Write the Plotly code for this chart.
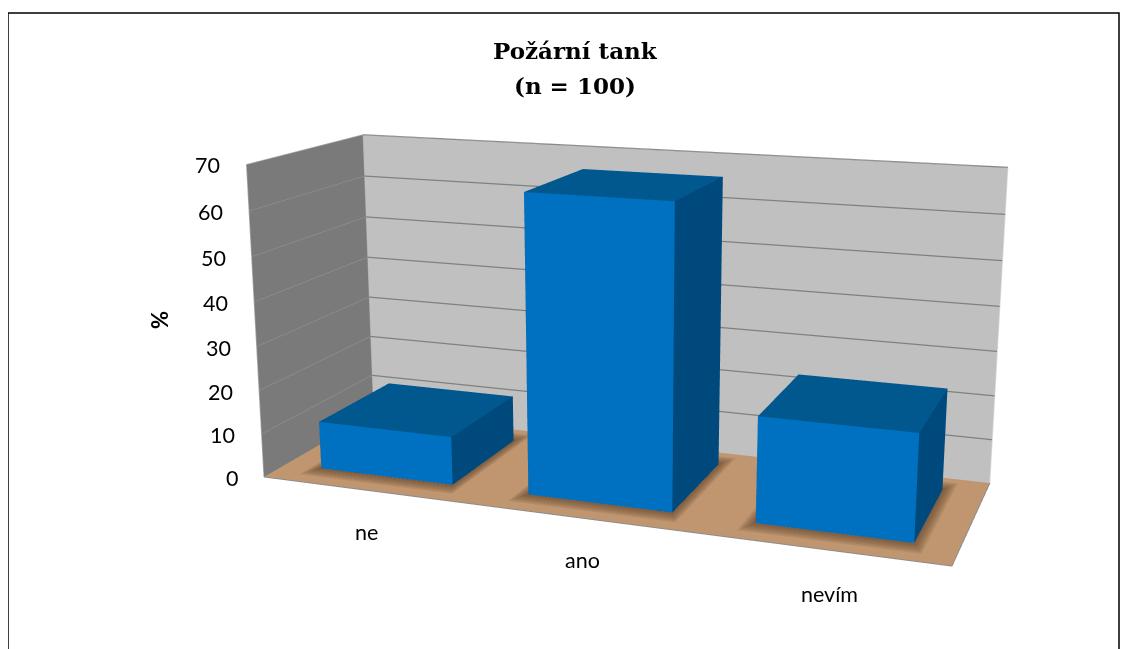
import plotly.graph_objects as go

categories = ["ne", "ano", "nevím"]
values = [11, 66, 23]
z_ticks = [0, 10, 20, 30, 40, 50, 60, 70]
title_lines = ["Požární tank", "(n = 100)"]
y_title = "%"

TOP = "#01588f"
FRONT = "#0071c1"
SIDE = "#00497c"
WALL_LEFT = "#7a7a7a"
WALL_BACK = "#c0c0c0"
FLOOR = "#c09670"
TEXT_FONT = "Lato, Noto Sans, sans-serif"

BAR_X_MARGIN = 0.178
BAR_Y_RANGE = (0.187, 0.84)
LABEL_SHIFTS = ((1, -42), (0, -42), (7, -45))

# The chart has a much narrower lens than plotly's fixed 45 degree one, so the
# scene is drawn in a larger figure, offset so that the visible window is part of it.
FIG_W, FIG_H = 1228, 1390
TOP_OFFSET = -366


def fx(px):
    return (px - 8) / FIG_W


def fy(py):
    return 1 - (py - 8 - TOP_OFFSET) / FIG_H


fig = go.Figure()
flat = dict(ambient=1, diffuse=0, specular=0, roughness=1, fresnel=0)


def box(x0, x1, y0, y1, z0, z1):
    xs = [x0, x1, x1, x0, x0, x1, x1, x0]
    ys = [y0, y0, y1, y1, y0, y0, y1, y1]
    zs = [z0, z0, z0, z0, z1, z1, z1, z1]
    i = [0, 0, 4, 4, 0, 0, 1, 1, 2, 2, 3, 3]
    j = [1, 2, 5, 6, 1, 5, 2, 6, 3, 7, 0, 4]
    k = [2, 3, 6, 7, 5, 4, 6, 5, 7, 6, 4, 7]
    face = [SIDE] * 12
    face[2] = face[3] = TOP
    face[4] = face[5] = FRONT
    fig.add_trace(go.Mesh3d(x=xs, y=ys, z=zs, i=i, j=j, k=k, facecolor=face, flatshading=True,
                            lighting=flat, hoverinfo="skip", showscale=False))


def shadow(x0, x1, y0, y1, grow):
    gy = grow * 2.2
    fig.add_trace(go.Mesh3d(x=[x0 - grow, x1 + grow, x1 + grow, x0 - grow],
                            y=[y0 - gy, y0 - gy, y1 + gy, y1 + gy],
                            z=[0.05, 0.05, 0.05, 0.05], i=[0, 0], j=[1, 2], k=[2, 3],
                            color="#4a2f18", opacity=0.12, flatshading=True, lighting=flat,
                            hoverinfo="skip", showscale=False))


def line(xs, ys, zs, color, width):
    fig.add_trace(go.Scatter3d(x=xs, y=ys, z=zs, mode="lines", line=dict(color=color, width=width),
                               hoverinfo="skip", showlegend=False))


zmax = z_ticks[-1]
xmax = len(categories)
for v in z_ticks[1:]:
    line([0, xmax], [1, 1], [v, v], "#808080", 2.5)
    line([0, 0], [0, 1], [v, v], "#8e8e8e", 1.5)

line([0, xmax, xmax], [0, 0, 1], [0, 0, 0], "#8c8c8c", 2)
line([xmax, xmax], [1, 1], [0, zmax], "#d8d8d8", 1.5)
line([0, xmax], [1, 1], [zmax, zmax], "#9a9a9a", 1.5)
line([0, 0, 0], [0, 0, 1], [0, zmax, zmax], "#a8a8a8", 1.5)
line([0, 0], [1, 1], [0, zmax], "#9a9a9a", 1)

for idx, v in enumerate(values):
    x0, x1 = idx + BAR_X_MARGIN, idx + 1 - BAR_X_MARGIN
    y0, y1 = BAR_Y_RANGE
    for grow in (0.008, 0.016, 0.024, 0.032, 0.04, 0.048):
        shadow(x0, x1, y0, y1, grow)
    box(x0, x1, y0, y1, 0, v)

axis_common = dict(showgrid=False, zeroline=False, showline=False, showticklabels=False, ticks="",
                   showspikes=False, showbackground=True, title=dict(text=""))

label_font = dict(family=TEXT_FONT, size=21.5, color="#000000")
scene_notes = []
for v in z_ticks:
    scene_notes.append(dict(x=0, y=0, z=v, text=str(v), showarrow=False, xanchor="right", yanchor="middle",
                            xshift=-24, yshift=-1, font=label_font))
for idx, c in enumerate(categories):
    dx, dy = LABEL_SHIFTS[idx]
    scene_notes.append(dict(x=idx + 0.5, y=0, z=0, text=c, showarrow=False, xanchor="center", yanchor="middle",
                            xshift=dx, yshift=dy, font=label_font))

fig.update_layout(
    width=FIG_W, height=FIG_H,
    margin=dict(l=0, r=0, t=0, b=0),
    paper_bgcolor="#ffffff",
    showlegend=False,
    shapes=[dict(type="rect", xref="paper", yref="paper", x0=fx(8), x1=fx(1119), y0=fy(1000), y1=fy(13),
                 line=dict(color="#000000", width=1.5), fillcolor="rgba(0,0,0,0)")],
    annotations=[
        dict(text=f"<b>{title_lines[0]}</b>", x=fx(575), y=fy(50), xref="paper", yref="paper", showarrow=False,
             xanchor="center", yanchor="middle", font=dict(family="DejaVu Serif", size=23, color="#000000")),
        dict(text=f"<b>{title_lines[1]}</b>", x=fx(575), y=fy(85), xref="paper", yref="paper", showarrow=False,
             xanchor="center", yanchor="middle", font=dict(family="DejaVu Serif", size=23, color="#000000")),
        dict(text=f"<b>{y_title}</b>", x=fx(160), y=fy(320), xref="paper", yref="paper", showarrow=False,
             xanchor="center", yanchor="middle", textangle=-90,
             font=dict(family=TEXT_FONT, size=22, color="#000000")),
    ],
    scene=dict(
        domain=dict(x=[0, 1], y=[0, 1]),
        aspectmode="manual",
        aspectratio=dict(x=2.979, y=1.0, z=1.367),
        camera=dict(eye=dict(x=2.342, y=-6.469, z=1.717), center=dict(x=-0.036, y=0.062, z=-0.063),
                    up=dict(x=0, y=0, z=1), projection=dict(type="perspective")),
        xaxis=dict(range=[0, xmax], backgroundcolor=WALL_LEFT, **axis_common),
        yaxis=dict(range=[0, 1], backgroundcolor=WALL_BACK, **axis_common),
        zaxis=dict(range=[0, zmax], backgroundcolor=FLOOR, **axis_common),
        annotations=scene_notes,
    ),
)

post = f"""
var gd = document.getElementById('{{plot_id}}');
document.documentElement.style.overflow = 'hidden';
document.documentElement.style.height = '649px';
gd.style.position = 'absolute';
gd.style.left = '8px';
gd.style.top = '{8 + TOP_OFFSET}px';
"""
fig.write_html("out.html", post_script=post, config=dict(displayModeBar=False))
